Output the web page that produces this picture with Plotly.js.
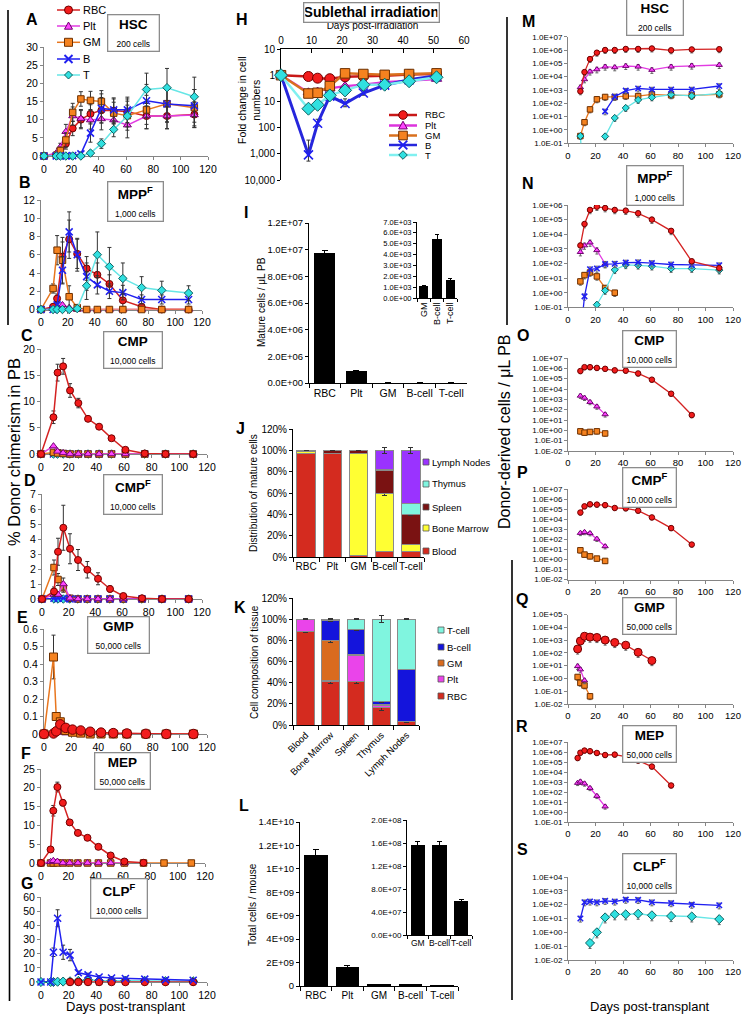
<!DOCTYPE html>
<html><head><meta charset="utf-8">
<script src="https://cdn.plot.ly/plotly-3.0.1.min.js"></script>
<style>html,body{margin:0;padding:0;background:#fff}#chart{width:744px;height:1018px}</style>
</head><body><div id="chart"></div>
<script>
// ================= DATA =================
const seriesNames = ['RBC','Plt','GM','B','T'];
const daysA = [0,9,12,16,21,27,34,42,51,61,75,90,110];
const daysE = [0,7,9,12,16,21,27,34,42,51,61,75,90,110];

// A  HSC
const A_RBC = [0,0.1,0.5,3.4,7.6,10.0,11.6,12.6,12.5,12.2,11.0,11.0,11.4];
const A_Plt = [0,0.8,2.5,6.7,11.0,10.3,9.9,10.2,9.9,8.5,11.0,11.0,11.3];
const A_GM  = [0,0.2,1.5,4.4,12.0,15.7,15.3,15.0,11.8,11.1,12.7,14.4,13.3];
const A_B   = [0,0,0,0,0.1,0.6,6.3,13.1,12.7,12.7,15.2,14.3,13.8];
const A_T   = [0,0,0,0,0,0,0.8,3.4,7.3,11.0,18.3,18.8,16.3];
const A_RBC_e = [0,0,0.5,1.5,2,2.5,2.5,3.5,3.5,3.5,3.5,3.5,3.5];
const A_Plt_e = [0,0.3,1,2,2.5,2.5,2.5,3,3,3.5,3.5,3.5,3.5];
const A_GM_e  = [0,0.2,1,2,2.5,2,2.5,3,3,4,4,5,5];
const A_B_e   = [0,0,0,0,0.1,0.5,2.5,4,3,3.5,4.5,5,4.5];
const A_T_e   = [0,0,0,0,0,0,0.6,1.3,2,3,4.5,5.3,5.4];
// B  MPP-F
const B_RBC = [0,0.3,1.2,5.8,7.7,6.1,4.5,3.8,2.8,1.0,0.3,0,0];
const B_Plt = [0,0.1,0.3,0.5,0.2,0,0,0,0,0,0,0,0];
const B_GM  = [0,2.3,6.5,5.4,1.4,0.2,0,0,0,0,0,0,0];
const B_B   = [0,0,0.5,4.3,8.5,6.0,3.6,2.7,2.0,1.85,1.1,1.1,1.1];
const B_T   = [0,0,0,0,0,0.1,2.6,6.0,4.7,3.4,2.4,2.1,1.8];
const B_RBC_e = [0,0.2,0.5,1.6,2.1,1.6,1.3,1.3,1.0,0.7,0.3,0,0];
const B_GM_e  = [0,0.5,1.6,2.5,1.2,0.2,0,0,0,0,0,0,0];
const B_B_e   = [0,0,0.3,1.5,2.2,1.8,1.5,1.0,0.8,0.8,0.5,0.5,0.5];
const B_T_e   = [0,0,0,0,0,0.1,1.5,2.5,2.1,1.7,1.2,1.0,0.8];
// C  CMP
const C_RBC = [0,7.0,15.5,16.7,12.1,9.7,6.7,5.2,3.0,0.8,0.1,0,0];
const C_Plt = [0,1.5,0.5,0.2,0,0,0,0,0,0,0,0,0];
const C_GM  = [0,0.3,0.2,0.1,0,0,0,0,0,0,0,0,0];
const C_B   = [0,0,0.2,0.1,0,0,0,0,0,0,0,0,0];
const C_T   = [0,0,0,0,0,0,0,0,0,0,0,0,0];
const C_RBC_e = [0,1.2,1.6,1.5,1.3,0.9,0.5,0.4,0.4,0.3,0.1,0,0];
// D  CMP-F
const D_RBC = [0,0.5,3.15,4.75,3.35,2.6,1.95,1.35,0.67,0.2,0.05,0,0];
const D_Plt = [0,0.3,0.3,1.0,0.05,0,0,0,0,0,0,0,0];
const D_GM  = [0,2.1,1.3,0.75,0.05,0,0,0,0,0,0,0,0];
const D_B   = [0,0.05,0.05,0.05,0,0,0,0,0,0,0,0,0];
const D_T   = [0,0,0,0,0,0,0,0,0,0,0,0,0];
const D_RBC_e = [0,0.3,0.9,1.5,1.0,0.7,0.55,0.4,0.2,0.1,0.05,0,0];
const D_GM_e  = [0,0.5,0.4,0.3,0,0,0,0,0,0,0,0,0];
const D_Plt_e = [0,0.1,0.1,0.4,0,0,0,0,0,0,0,0,0];
// E  GMP
const E_RBC = [0,0.003,0.015,0.055,0.035,0.025,0.02,0.013,0.008,0.005,0.003,0.001,0,0];
const E_Plt = [0,0.005,0.01,0.01,0.005,0.002,0,0,0,0,0,0,0,0];
const E_GM  = [0,0.44,0.1,0.07,0.02,0.01,0.005,0,0,0,0,0,0,0];
const E_GM_e = [0,0.125,0.02,0.02,0.01,0,0,0,0,0,0,0,0,0];
const E_RBC_e = [0,0,0.005,0.01,0.008,0.005,0.004,0.003,0,0,0,0,0,0];
// F  MEP
const F_RBC = [0,3.6,13.9,20.2,16.0,10.8,8.0,6.7,4.3,2.0,0.4,0.05,null,null];
const F_Plt = [0,0.3,0.6,0.4,0,0,0,0,0,0,0,null,null,null];
const F_GM  = [0,0,0,0,0,0,0,0,0,0,0,0,0,0];
const F_RBC_e = [0,0.3,1.4,1.3,0.8,0.6,0.6,0.5,0.4,0.3,0.2,0.05,0,0];
// G  CLP-F
const G_RBC = [null,null,null,null,null,0,0,0,0,0,0,0,0,0];
const G_B   = [0,0,21,45,21,19,6.5,5.0,3.5,2.8,2.5,2.0,1.5,1.2];
const G_T   = [0,0,0,0.2,0.3,0.5,0.8,1.5,1.0,1.0,1.0,0.8,0.6,0.5];
const G_B_e = [0,0,3,6,5,4,1.2,1.2,1,0.8,0.8,0.8,0.8,0.8];

// H  sublethal irradiation (fold decrease)
const daysH = [0,9,12,16,21,27,34,42,51];
const H_RBC = [1,1.12,1.3,1.36,1.15,1.12,1.05,0.95,0.9];
const H_Plt = [1,4.5,4.2,3.2,2.6,2.3,1.85,1.6,1.4];
const H_GM  = [1,5.0,4.7,2.6,0.85,0.9,0.97,0.9,0.85];
const H_B   = [1,1100,68,6.3,12,4.8,2.4,1.5,1.05];
const H_T   = [1,19,13.5,5.9,3.8,2.3,2.3,1.7,1.2];
const H_B_e = [0,800,20,1.5,4,1,0.5,0.3,0.2];
const H_ticks = [0.1,1,10,100,1000,10000];
const H_tickText = ['10','1','10','100','1,000','10,000'];

// I  mature cells / uL PB
const catsCells = ['RBC','Plt','GM','B-cell','T-cell'];
const I_vals = [9.75e6, 9.3e5, 1.1e3, 5.45e3, 1.7e3];
const I_err  = [1.6e5, 2.0e4, 60, 400, 100];

// J  distribution of mature cells
const tissues = ['Blood','Bone Marrow','Spleen','Thymus','Lymph Nodes'];
const J_Blood  = [97.5, 97.0, 1.5, 5.4, 5.0];
const J_BM     = [1.5, 0.3, 96.0, 54.0, 7.0];
const J_Spleen = [1.0, 2.7, 2.5, 22.0, 28.0];
const J_Thymus = [0, 0, 0, 0.3, 10.5];
const J_LN     = [0, 0, 0, 18.3, 49.5];
const J_LN_e   = [0, 0, 0, 2.5, 2.5];
const J_BM_e   = [0, 0, 0, 1.8, 0.5];
const J_Sp_e   = [0, 0, 0, 0.6, 1.5];

// K  cell composition of tissue
const K_RBC = [88, 41, 41, 17, 3];
const K_Plt = [12, 1.5, 24.5, 1.5, 0];
const K_GM  = [0, 37, 1.5, 0.5, 0.5];
const K_B   = [0, 19.5, 23.5, 3, 49];
const K_T   = [0, 1, 9.5, 78, 47.5];
const K_RBC_e = [0.4, 1.6, 1.6, 3.0, 0.5];
const K_GM_e  = [0, 1.6, 0, 0, 0];
const K_B_e   = [0, 1.6, 0.8, 0.8, 0.5];
const K_T_e   = [0.3, 0.5, 0.5, 3.0, 0.6];

// L  total cells / mouse
const L_vals = [1.12e10, 1.65e9, 1.57e8, 1.57e8, 6.0e7];
const L_err  = [4.5e8, 1.2e8, 5e6, 5e6, 2e6];

// M-S donor-derived cells / uL PB
const daysM = [9,12,16,21,27,34,42,51,61,75,90,110];
const daysO = [9,12,16,21,27,34,42,51,61,75,90];
const daysQ = [7,9,12,16,21,27,34,42,51,61,75];
const M_RBC = [800,2.2e4,2.1e5,6.3e5,1.0e6,1.0e6,1.2e6,1.2e6,1.3e6,9.5e5,1.1e6,1.15e6];
const M_Plt = [1.6e3,6.3e3,2.4e4,3.5e4,5.6e4,5.0e4,6.3e4,5.6e4,3.2e4,5.6e4,6.7e4,7.5e4];
const M_GM  = [0.35,3.8,35,200,300,300,350,350,470,400,400,470];
const M_B   = [null,null,null,null,25,316,900,1300,1100,1100,1100,2000];
const M_T   = [0.35,1e-5,null,null,0.33,8,45,180,280,450,360,560];
const N_RBC = [1.7e3,5e4,4.6e5,7.7e5,6.2e5,4.6e5,4.1e5,2.7e5,1.0e5,1.7e4,140,48];
const N_Plt = [600,1.7e3,2.7e3,800,95];
const N_GM  = [5.9,16,24,13,2.1,1.0];
const N_B   = [1e-3,0.56,40,45,90,95,115,120,105,85,80,75];
const N_T   = [null,null,null,0.15,1.4,37,80,75,65,45,45,35];
const O_RBC = [5.5e5,1.3e6,1.3e6,1.1e6,9e5,6.5e5,6e5,3.2e5,8e4,3.5e3,30];
const O_Plt = [2.2e3,1.4e3,550,200,35];
const O_GM  = [0.8,0.6,0.7,0.8,0.5];
const P_RBC = [4.6e4,1.9e5,3e5,2.8e5,2.5e5,1.3e5,1.2e5,7e4,1.5e4,1.3e3,30];
const P_Plt = [420,520,400,110,20];
const P_GM  = [8,3,2,1.2,0.7];
const Q_RBC = [200,850,2000,1700,1600,1000,650,400,110,25];
const Q_Plt = [9,5,0.7];
const Q_GM  = [1.3,0.45,0.28,0.04];
const R_RBC = [2.5e5,8.5e5,1.4e6,1.2e6,8e5,5e5,5.5e5,3.5e5,1.4e5,3.5e4,450];
const R_Plt = [800,1100,700,250,40,3.5];
const S_B   = [10,150,170,150,190,170,230,220,150,130,100,90];
const S_T   = [null,null,0.17,1.0,12,20,20,22,17,15,14,9];

// ================= HELPERS =================
const W=744, H=1018;
const X=p=>p/W, Y=p=>1-p/H;
const DX=(a,b)=>[a/W,b/W], DY=(t,b)=>[1-b/H,1-t/H];
const FONT='"Liberation Sans", Arial, sans-serif';

const ST = {
  RBC:{lc:'#d42222', mc:'#f21c1c', me:'#700000', sym:'circle', ms:7, mw:1},
  Plt:{lc:'#e23ce2', mc:'#ff44ff', me:'#700070', sym:'triangle-up', ms:7, mw:1},
  GM:{lc:'#e8761e', mc:'#f5821f', me:'#6e3000', sym:'square', ms:6.5, mw:1},
  B:{lc:'#2020f0', mc:'#2020f0', me:'#2020f0', sym:'x-thin-open', ms:7, mw:1.6},
  T:{lc:'#66e6e6', mc:'#30e0e0', me:'#106060', sym:'diamond', ms:6.5, mw:1}
};

function sc(n, t, v, key, o){
  o = o || {};
  const s = ST[key];
  const tr = {type:'scatter', mode:'lines+markers', x:t.slice(0, v.length), y:v,
    xaxis:'x'+n, yaxis:'y'+n, showlegend:false, hoverinfo:'skip',
    line:{color:o.lc||s.lc, width:o.lw||1.5},
    marker:{symbol:s.sym, size:o.ms||s.ms, color:s.mc, line:{color:s.me, width:o.mw||s.mw}},
    cliponaxis: o.clip===true};
  if (o.err) tr.error_y = {type:'data', array:o.err, visible:true, color:'#333', thickness:1, width:2};
  else if (o.pct) tr.error_y = {type:'percent', value:o.pct, visible:true, color:'#666', thickness:1, width:1.5};
  return tr;
}

const traces = [];
// ---- column 1 ----
traces.push(
  sc(1,daysA,A_RBC,'RBC',{err:A_RBC_e}), sc(1,daysA,A_Plt,'Plt',{err:A_Plt_e}),
  sc(1,daysA,A_GM,'GM',{err:A_GM_e}), sc(1,daysA,A_B,'B',{err:A_B_e}), sc(1,daysA,A_T,'T',{err:A_T_e}),
  sc(2,daysA,B_Plt,'Plt'), sc(2,daysA,B_RBC,'RBC',{err:B_RBC_e}), sc(2,daysA,B_GM,'GM',{err:B_GM_e}),
  sc(2,daysA,B_B,'B',{err:B_B_e}), sc(2,daysA,B_T,'T',{err:B_T_e}),
  sc(3,daysA,C_B,'B'), sc(3,daysA,C_T,'T'), sc(3,daysA,C_GM,'GM'), sc(3,daysA,C_Plt,'Plt'), sc(3,daysA,C_RBC,'RBC',{err:C_RBC_e}),
  sc(4,daysA,D_T,'T'), sc(4,daysA,D_GM,'GM',{err:D_GM_e}), sc(4,daysA,D_B,'B'), sc(4,daysA,D_Plt,'Plt',{err:D_Plt_e}), sc(4,daysA,D_RBC,'RBC',{err:D_RBC_e}),
  sc(5,daysE,E_Plt,'Plt'), sc(5,daysE,E_GM,'GM',{err:E_GM_e, ms:8}), sc(5,daysE,E_RBC,'RBC',{err:E_RBC_e, ms:9.5}),
  sc(6,daysE,F_GM,'GM'), sc(6,daysE,F_Plt,'Plt'), sc(6,daysE,F_RBC,'RBC',{err:F_RBC_e}),
  sc(7,daysE,G_T,'T',{ms:7}), sc(7,daysE,G_RBC,'RBC',{ms:7.5}), sc(7,daysE,G_B,'B',{err:G_B_e})
);
// ---- H ----
traces.push(
  sc(8,daysH,H_Plt,'Plt',{lw:2.2, ms:9, lc:'#dd33dd'}),
  sc(8,daysH,H_RBC,'RBC',{lw:2.5, ms:10, lc:'#c81818'}),
  sc(8,daysH,H_B,'B',{lw:3, ms:9, err:H_B_e, lc:'#2626dc'}),
  sc(8,daysH,H_GM,'GM',{lw:2.5, ms:9.5, lc:'#d9701e'}),
  sc(8,daysH,H_T,'T',{lw:2.5, ms:10, lc:'#80f0f0'})
);
// ---- I ----
traces.push({type:'bar', x:catsCells, y:I_vals, xaxis:'x9', yaxis:'y9', width:0.66, marker:{color:'#000'}, hoverinfo:'skip',
  error_y:{type:'data', array:I_err, color:'#000', thickness:1, width:3}});
traces.push({type:'bar', x:catsCells.slice(2), y:I_vals.slice(2), xaxis:'x10', yaxis:'y10', width:0.68, marker:{color:'#000'}, hoverinfo:'skip',
  error_y:{type:'data', array:I_err.slice(2), color:'#000', thickness:1, width:2}});
// ---- J ----
const jEdge = {color:'#8a8a8a', width:1};
const mkJ = (vals, color, err) => { const t = {type:'bar', x:catsCells, y:vals, xaxis:'x11', yaxis:'y11', width:0.7, hoverinfo:'skip',
  marker:{color:color, line:jEdge}}; if (err) t.error_y = {type:'data', array:err, color:'#333', thickness:1, width:2.5}; return t; };
traces.push(mkJ(J_Blood,'#d42b1f'), mkJ(J_BM,'#ffff33',J_BM_e), mkJ(J_Spleen,'#7a1212',J_Sp_e), mkJ(J_Thymus,'#80f5df'), mkJ(J_LN,'#9a33ff',J_LN_e));
// ---- K ----
const mkK = (vals, color, err) => { const t = {type:'bar', x:tissues, y:vals, xaxis:'x12', yaxis:'y12', width:0.7, hoverinfo:'skip',
  marker:{color:color, line:jEdge}}; if (err) t.error_y = {type:'data', array:err, color:'#333', thickness:1, width:2.5}; return t; };
traces.push(mkK(K_RBC,'#d42b1f',K_RBC_e), mkK(K_Plt,'#ea44ea'), mkK(K_GM,'#d96b1e',K_GM_e), mkK(K_B,'#1414dc',K_B_e), mkK(K_T,'#80f5df',K_T_e));
// ---- L ----
traces.push({type:'bar', x:catsCells, y:L_vals, xaxis:'x13', yaxis:'y13', width:0.75, marker:{color:'#000'}, hoverinfo:'skip',
  error_y:{type:'data', array:L_err, color:'#000', thickness:1, width:3}});
traces.push({type:'bar', x:catsCells.slice(2), y:L_vals.slice(2), xaxis:'x14', yaxis:'y14', width:0.66, marker:{color:'#000'}, hoverinfo:'skip',
  error_y:{type:'data', array:L_err.slice(2), color:'#000', thickness:1, width:2.5}});
// ---- column 3 ----
const c3 = {clip:true, pct:45, lw:1.3, ms:5.5};
const c3o = (extra) => Object.assign({}, c3, extra||{});
traces.push(
  sc(15,daysM,M_GM,'GM',c3o()), sc(15,daysM,M_T,'T',c3o()), sc(15,daysM,M_B,'B',c3o()), sc(15,daysM,M_Plt,'Plt',c3o()), sc(15,daysM,M_RBC,'RBC',c3o()),
  sc(16,daysM,N_GM,'GM',c3o()), sc(16,daysM,N_Plt,'Plt',c3o()), sc(16,daysM,N_T,'T',c3o()), sc(16,daysM,N_B,'B',c3o()), sc(16,daysM,N_RBC,'RBC',c3o()),
  sc(17,daysO,O_GM,'GM',c3o()), sc(17,daysO,O_Plt,'Plt',c3o()), sc(17,daysO,O_RBC,'RBC',c3o()),
  sc(18,daysO,P_GM,'GM',c3o()), sc(18,daysO,P_Plt,'Plt',c3o()), sc(18,daysO,P_RBC,'RBC',c3o()),
  sc(19,daysQ,Q_GM,'GM',c3o()), sc(19,daysQ,Q_Plt,'Plt',c3o()), sc(19,daysQ,Q_RBC,'RBC',c3o({ms:8, pct:60})),
  sc(20,daysQ,R_Plt,'Plt',c3o()), sc(20,daysQ,R_RBC,'RBC',c3o()),
  sc(21,daysM,S_T,'T',c3o({ms:7, pct:60})), sc(21,daysM,S_B,'B',c3o())
);

// ================= LAYOUT =================
const layout = {width:W, height:H, margin:{l:0,r:0,t:0,b:0,pad:0}, paper_bgcolor:'#fff', plot_bgcolor:'rgba(0,0,0,0)',
  showlegend:false, barmode:'stack', font:{family:FONT, size:10, color:'#000'}, shapes:[], annotations:[]};

const baseAx = {showline:true, linewidth:1, ticks:'outside', ticklen:3, showgrid:false, zeroline:false, fixedrange:true, layer:'below traces'};
function ax(extra){ return Object.assign({}, baseAx, extra); }

// column 1 axes
const col1 = [
  {n:1, x:[44,208], y:[47,156], r:[0,30], d:5},
  {n:2, x:[41,202], y:[200,309.5], r:[0,12], d:2},
  {n:3, x:[41,207], y:[349,454], r:[0,20], d:5},
  {n:4, x:[42,202], y:[494,599], r:[0,7], d:1},
  {n:5, x:[44,207], y:[629,734], r:[0,0.6], d:0.1},
  {n:6, x:[41,205], y:[769,863], r:[0,25], d:5},
  {n:7, x:[41,207], y:[897,982], r:[0,60], d:10}
];
col1.forEach(p => {
  layout['xaxis'+p.n] = ax({domain:DX(p.x[0],p.x[1]), anchor:'y'+p.n, range:[0,120], dtick:20, tick0:0,
    linecolor:'#858585', tickcolor:'#858585', tickfont:{size:10.5}});
  layout['yaxis'+p.n] = ax({domain:DY(p.y[0],p.y[1]), anchor:'x'+p.n, range:p.r, dtick:p.d, tick0:0,
    linecolor:'#858585', tickcolor:'#858585', tickfont:{size:10.5}});
});

// H
layout.xaxis8 = ax({domain:DX(281,464), anchor:'y8', side:'top', range:[0,60], dtick:10, tick0:0, linecolor:'#000', tickcolor:'#000',
  ticks:'inside', ticklen:4, tickfont:{size:10}, title:{text:'Days post-irradiation', font:{size:10}, standoff:3}});
layout.yaxis8 = ax({domain:DY(49,180), anchor:'x8', type:'log', range:[4,-1], tickvals:H_ticks, ticktext:H_tickText,
  linecolor:'#000', tickcolor:'#000', tickfont:{size:10}});

function fmtE(v){ if (v===0) return '0.0E+00'; const e=Math.floor(Math.log10(v)+1e-9); const m=v/Math.pow(10,e);
  return m.toFixed(1)+'E'+(e<0?'-':'+')+String(Math.abs(e)).padStart(2,'0'); }
function fmtG(v){ if (v===0) return '0'; const e=Math.floor(Math.log10(v)+1e-9); const m=parseFloat((v/Math.pow(10,e)).toFixed(1));
  return String(m)+'E'+(e<0?'-':'+')+String(Math.abs(e)).padStart(2,'0'); }
const range = (a,b,s) => { const r=[]; for (let v=a; v<=b+s*1e-6; v+=s) r.push(+v.toPrecision(6)); return r; };

// I
const I_ticks = range(0,1.2e7,2e6), I_inTicks = range(0,7000,1000);
layout.xaxis9 = ax({domain:DX(309,467), anchor:'y9', type:'category', linecolor:'#000', tickcolor:'#000', tickson:'boundaries', ticklen:4, tickangle:0, tickfont:{size:10.5}});
layout.yaxis9 = ax({domain:DY(223,383), anchor:'x9', range:[0,1.2e7], tickvals:I_ticks, ticktext:I_ticks.map(fmtE), linecolor:'#000', tickcolor:'#000', tickfont:{size:9.5}});
layout.xaxis10 = ax({domain:DX(417,457), anchor:'y10', type:'category', linecolor:'#000', tickcolor:'#000', tickson:'boundaries', ticklen:3, tickangle:-90, tickfont:{size:9}});
layout.yaxis10 = ax({domain:DY(222,298), anchor:'x10', range:[0,7000], tickvals:I_inTicks, ticktext:I_inTicks.map(fmtE), linecolor:'#000', tickcolor:'#000', tickfont:{size:7.5}});
// J
const pctTicks = range(0,120,20);
layout.xaxis11 = ax({domain:DX(293,424), anchor:'y11', type:'category', linecolor:'#000', tickcolor:'#000', tickson:'boundaries', ticklen:4, tickangle:0, tickfont:{size:10}});
layout.yaxis11 = ax({domain:DY(429,557), anchor:'x11', range:[0,120], tickvals:pctTicks, ticktext:pctTicks.map(v=>v+'%'), linecolor:'#000', tickcolor:'#000', tickfont:{size:10}});
// K
layout.xaxis12 = ax({domain:DX(293,419), anchor:'y12', type:'category', linecolor:'#000', tickcolor:'#000', tickson:'boundaries', ticklen:4, tickangle:-45, tickfont:{size:9.5}});
layout.yaxis12 = ax({domain:DY(598,725), anchor:'x12', range:[0,120], tickvals:pctTicks, ticktext:pctTicks.map(v=>v+'%'), linecolor:'#000', tickcolor:'#000', tickfont:{size:10}});
// L
const L_ticks = range(0,1.4e10,2e9), L_inTicks = range(0,2e8,4e7);
layout.xaxis13 = ax({domain:DX(300,458), anchor:'y13', type:'category', linecolor:'#000', tickcolor:'#000', tickson:'boundaries', ticklen:4, tickangle:0, tickfont:{size:10}});
layout.yaxis13 = ax({domain:DY(822,986), anchor:'x13', range:[0,1.4e10], tickvals:L_ticks, ticktext:L_ticks.map(fmtG), linecolor:'#000', tickcolor:'#000', tickfont:{size:9.5}});
layout.xaxis14 = ax({domain:DX(407,472), anchor:'y14', type:'category', linecolor:'#000', tickcolor:'#000', tickson:'boundaries', ticklen:3, tickangle:0, tickfont:{size:8.5}});
layout.yaxis14 = ax({domain:DY(820,935), anchor:'x14', range:[0,2e8], tickvals:L_inTicks, ticktext:L_inTicks.map(fmtE), linecolor:'#000', tickcolor:'#000', tickfont:{size:8}});

// column 3
const col3 = [
  {n:15, y:[36.7,143.3], r:[-1,7]},
  {n:16, y:[205,307.3], r:[-1,6]},
  {n:17, y:[358,451], r:[-2,7]},
  {n:18, y:[489,579.5], r:[-2,7]},
  {n:19, y:[614.5,704], r:[-2,5]},
  {n:20, y:[742,822], r:[-1,7]},
  {n:21, y:[877,960], r:[-2,4]}
];
col3.forEach(p => {
  const tv=[], tt=[];
  for (let e=p.r[0]; e<=p.r[1]; e++){ tv.push(Math.pow(10,e)); tt.push('1.0E'+(e<0?'-':'+')+String(Math.abs(e)).padStart(2,'0')); }
  layout['xaxis'+p.n] = ax({domain:DX(568,733), anchor:'y'+p.n, range:[0,120], dtick:20, tick0:0,
    linecolor:'#858585', tickcolor:'#858585', tickfont:{size:9.5}});
  layout['yaxis'+p.n] = ax({domain:DY(p.y[0],p.y[1]), anchor:'x'+p.n, type:'log', range:p.r, tickvals:tv, ticktext:tt,
    linecolor:'#858585', tickcolor:'#858585', tickfont:{size:8}});
});

// ================= ANNOTATIONS & DECOR =================
const A = layout.annotations, S = layout.shapes;
function txt(t, x, y, o){ o=o||{}; A.push(Object.assign({xref:'paper', yref:'paper', x:X(x), y:Y(y), text:t, showarrow:false,
  xanchor:o.xa||'center', yanchor:'middle', font:{size:o.size||10, family:FONT, color:'#000'}, textangle:o.angle||0}, o.extra||{})); }

// panel letters
[['A',32,20],['B',25,182],['C',27,335],['D',30,480],['E',22,617],['F',26,753],['G',27,883],
 ['H',242,20],['I',246,212],['J',240,428],['K',240,607],['L',244,805],
 ['M',528,22],['N',528,183],['O',523,336],['P',522,472],['Q',522,599],['R',522,726],['S',522,849]]
 .forEach(d => txt('<b>'+d[0]+'</b>', d[1], d[2], {size:16}));

// title boxes
function box(cx, cy, main, sub, w){
  A.push({xref:'paper', yref:'paper', x:X(cx), y:Y(cy), xanchor:'center', yanchor:'middle', showarrow:false,
    text:'<b>'+main+'</b><br><span style="font-size:8.5px">'+sub+'</span>', font:{size:13.5, family:FONT, color:'#000'},
    bordercolor:'#8c8c8c', borderwidth:1.3, borderpad:2, bgcolor:'#fff', width:w, align:'center'});
}
box(133,33,'HSC','200 cells',46); box(135,201,'MPP<sup>F</sup>','1,000 cells',50);
box(133,350,'CMP','10,000 cells',53); box(133,494,'CMP<sup>F</sup>','10,000 cells',53);
box(118,635,'GMP','50,000 cells',56); box(122,771,'MEP','50,000 cells',50); box(119,898,'CLP<sup>F</sup>','10,000 cells',51);
box(655,17,'HSC','200 cells',51); box(655,185,'MPP<sup>F</sup>','1,000 cells',51);
box(649,349,'CMP','10,000 cells',48); box(649,487,'CMP<sup>F</sup>','10,000 cells',48);
box(649,616,'GMP','50,000 cells',48); box(649,744,'MEP','50,000 cells',48); box(649,873,'CLP<sup>F</sup>','10,000 cells',48);
A.push({xref:'paper', yref:'paper', x:X(371), y:Y(12.5), xanchor:'center', yanchor:'middle', showarrow:false,
  text:'<b>Sublethal irradiation</b>', font:{size:14, family:FONT, color:'#000'}, bordercolor:'#8c8c8c', borderwidth:1.3,
  borderpad:1, bgcolor:'#fff', width:132});

// axis titles
txt('% Donor chimerism in PB', 14, 452, {size:16.5, angle:-90});
txt('Donor-derived cells / μL PB', 505, 432, {size:16, angle:-90});
txt('Days post-transplant', 126, 1006, {size:13});
txt('Days post-transplant', 650, 1006, {size:13});
txt('Fold change in cell<br>numbers', 249, 100, {size:10.5, angle:-90});
txt('Mature cells / μL PB', 262, 302, {size:10, angle:-90});
txt('Distribution of mature cells', 254, 493, {size:10, angle:-90});
txt('Cell composition of tissue', 254, 662, {size:10, angle:-90});
txt('Total cells / mouse', 252, 904, {size:10, angle:-90});

// bracket lines
const vline = (x, y0, y1) => S.push({type:'line', xref:'paper', yref:'paper', x0:X(x), x1:X(x), y0:Y(y0), y1:Y(y1), line:{color:'#000', width:1.6}});
vline(8, 10, 325); vline(9.5, 556, 1001); vline(507, 17, 325); vline(512, 560, 1000);

// legend glyphs
function glyph(sym, cx, cy, r, fill, edge, ew){
  const base = {xref:'paper', yref:'paper', fillcolor:fill, line:{color:edge, width:ew}};
  if (sym==='circle') S.push(Object.assign({type:'circle', x0:X(cx-r), x1:X(cx+r), y0:Y(cy+r), y1:Y(cy-r)}, base));
  else if (sym==='square') S.push(Object.assign({type:'rect', x0:X(cx-r), x1:X(cx+r), y0:Y(cy+r), y1:Y(cy-r)}, base));
  else if (sym==='triangle-up') S.push(Object.assign({type:'path', path:`M ${X(cx-r)},${Y(cy+r*0.8)} L ${X(cx+r)},${Y(cy+r*0.8)} L ${X(cx)},${Y(cy-r)} Z`}, base));
  else if (sym==='diamond') S.push(Object.assign({type:'path', path:`M ${X(cx)},${Y(cy-r)} L ${X(cx+r)},${Y(cy)} L ${X(cx)},${Y(cy+r)} L ${X(cx-r)},${Y(cy)} Z`}, base));
  else S.push({type:'path', xref:'paper', yref:'paper', line:{color:edge, width:ew+0.3},
    path:`M ${X(cx-r)},${Y(cy-r)} L ${X(cx+r)},${Y(cy+r)} M ${X(cx-r)},${Y(cy+r)} L ${X(cx+r)},${Y(cy-r)}`});
}
function lineLegend(ys, x0, x1, xm, xt, r, lw, fs, lcs){
  seriesNames.forEach((k,i) => {
    const s = ST[k];
    S.push({type:'line', xref:'paper', yref:'paper', x0:X(x0), x1:X(x1), y0:Y(ys[i]), y1:Y(ys[i]), line:{color:(lcs&&lcs[i])||s.lc, width:lw}});
    glyph(s.sym==='x-thin-open'?'x':s.sym, xm, ys[i], r, s.mc, s.me, s.sym==='x-thin-open'?1.6:1);
    txt(k, xt, ys[i], {xa:'left', size:fs});
  });
}
lineLegend([10,26,42.3,59,75], 57, 80, 68.5, 81, 4, 1.5, 11);
lineLegend([115,125.5,135.5,145,155], 389, 417, 403, 423, 4.3, 2.5, 9.5, ['#c81818','#dd33dd','#d9701e','#2626dc','#80f0f0']);

function boxLegend(names, colors, ys, xm, xt){
  names.forEach((n,i) => {
    S.push({type:'rect', xref:'paper', yref:'paper', x0:X(xm-3), x1:X(xm+3), y0:Y(ys[i]+3), y1:Y(ys[i]-3), fillcolor:colors[i], line:{color:'#555', width:0.8}});
    txt(n, xt, ys[i], {xa:'left', size:9.5});
  });
}
boxLegend(['Lymph Nodes','Thymus','Spleen','Bone Marrow','Blood'], ['#9a33ff','#80f5df','#7a1212','#ffff33','#d42b1f'], [462,484,507,528,551], 426, 430);
boxLegend(['T-cell','B-cell','GM','Plt','RBC'], ['#80f5df','#1414dc','#d96b1e','#ea44ea','#d42b1f'], [630,647,663,679,696], 441, 445);

Plotly.newPlot('chart', traces, layout, {staticPlot:true, displayModeBar:false});
</script>
</body></html>
